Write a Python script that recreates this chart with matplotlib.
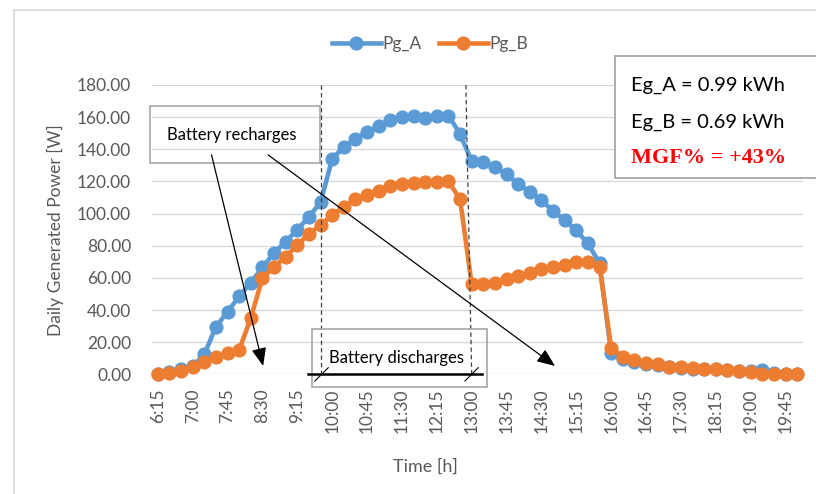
import matplotlib.pyplot as plt
from matplotlib.patches import Rectangle

plt.rcParams['font.family'] = ['Lato', 'DejaVu Sans']

# 15-min samples from 6:15 to 20:00
times = ['6:15', '6:30', '6:45', '7:00', '7:15', '7:30', '7:45', '8:00', '8:15', '8:30',
         '8:45', '9:00', '9:15', '9:30', '9:45', '10:00', '10:15', '10:30', '10:45', '11:00',
         '11:15', '11:30', '11:45', '12:00', '12:15', '12:30', '12:45', '13:00', '13:15', '13:30',
         '13:45', '14:00', '14:15', '14:30', '14:45', '15:00', '15:15', '15:30', '15:45', '16:00',
         '16:15', '16:30', '16:45', '17:00', '17:15', '17:30', '17:45', '18:00', '18:15', '18:30',
         '18:45', '19:00', '19:15', '19:30', '19:45', '20:00']

pg_a = [0, 1.5, 3.0, 5.0, 12.5, 29.5, 39, 48.5, 57, 66.5,
        75.5, 82.5, 90, 98, 107, 134, 141.5, 146.5, 151, 154.5,
        158, 160, 161, 159.5, 161, 161, 149.5, 132.5, 132, 129,
        124.5, 118.5, 113.5, 108.5, 101.5, 96, 89.5, 81.5, 69, 13,
        9.5, 7.5, 6.5, 6, 4.5, 4.2, 3.6, 3.2, 3.0, 2.6,
        2.0, 1.8, 2.6, 0.5, 0.3, 0.2]

pg_b = [0, 0.6, 2.3, 4.3, 7.9, 10.6, 13, 15.2, 35, 60,
        66.8, 73.2, 80.5, 87.3, 93, 99, 104.3, 109, 111.8, 114.3,
        117, 118.5, 119.2, 119.8, 119.8, 120, 109, 56, 56.2, 57,
        59.2, 61.2, 63.2, 65.3, 66.6, 68, 70, 70, 67, 16.5,
        11, 9, 7.3, 6.4, 4.8, 4.4, 3.8, 3.2, 3.1, 2.7,
        1.8, 1.7, 0.3, 0.2, 0.2, 0.2]

energy_lines = ['Eg_A = 0.99 kWh', 'Eg_B = 0.69 kWh']
mgf_text = 'MGF% = +43%'

W, H = 816, 494
def px(x, y):
    # pixel position (from top-left) -> figure fraction
    return x / W, 1 - y / H

grey = '#595959'
blue = '#5B9BD5'
orange = '#ED7D31'

fig = plt.figure(figsize=(8.16, 4.94), dpi=100)
ax = fig.add_axes([152 / W, 1 - 374.3 / H, (803 - 152) / W, (374.3 - 85) / H])

x = list(range(len(times)))
la, = ax.plot(x, pg_a, color=blue, lw=3.3, marker='o', ms=9.2, clip_on=False, zorder=3, label='Pg_A')
lb, = ax.plot(x, pg_b, color=orange, lw=3.3, marker='o', ms=9.2, clip_on=False, zorder=4, label='Pg_B')

ax.set_xlim(-0.5, len(times) - 0.5)
ax.set_ylim(0, 180)
ax.set_yticks(range(0, 181, 20))
ax.set_yticklabels(['%.2f' % v for v in range(0, 181, 20)])
ax.set_xticks(x[::3])
ax.set_xticklabels(times[::3], rotation=90)
ax.tick_params(axis='both', length=0, labelsize=12.5, labelcolor=grey)
ax.tick_params(axis='y', pad=15)
ax.tick_params(axis='x', pad=10)
ax.grid(axis='y', color='#D9D9D9', lw=1)
ax.set_axisbelow(True)
for s in ax.spines.values():
    s.set_visible(False)

ax.set_ylabel('Daily Generated Power [W]', fontsize=12.5, color=grey, labelpad=9)
fig.text(*px(425, 467), 'Time [h]', fontsize=13, color=grey, ha='center', va='center')

# dashed lines marking the discharge window
ax.plot([14.05, 14.05], [180, 0], color='#404040', lw=0.9, ls=(0, (3.5, 2.5)), zorder=5)
ax.plot([26.5, 27.0], [180, 0], color='#404040', lw=0.9, ls=(0, (3.5, 2.5)), zorder=5)

# battery recharges annotation
ax.add_patch(Rectangle((-0.63, 131.3), 14.57, 35.7, fill=False, ec='#A6A6A6', lw=1.2,
                       clip_on=False, zorder=5))
ax.text(6.34, 149, 'Battery recharges', fontsize=12, color='black', ha='center', va='center', zorder=6)
arrow = dict(arrowstyle='-|>,head_length=1.1,head_width=0.45', color='black', lw=0.9,
             shrinkA=0, shrinkB=0)
ax.annotate('', xy=(9.06, 5.2), xytext=(4.62, 136.5), arrowprops=arrow, zorder=6)
ax.annotate('', xy=(34.17, 5.2), xytext=(9.49, 136.5), arrowprops=arrow, zorder=6)

# battery discharges annotation
ax.add_patch(Rectangle((13.23, -7.7), 15.11, 35.9, fill=False, ec='#A6A6A6', lw=1.2,
                       clip_on=False, zorder=5))
ax.text(20.54, 10, 'Battery discharges', fontsize=12, color='black', ha='center', va='center', zorder=6)
ax.plot([12.93, 27.86], [0, 0], color='black', lw=1.8, clip_on=False, zorder=6)
ax.plot([13.51, 14.66], [-4.2, 4.1], color='black', lw=0.8, clip_on=False, zorder=6)
ax.plot([26.42, 27.56], [-4.2, 4.1], color='black', lw=0.8, clip_on=False, zorder=6)

# chart area border
fig.patches.append(Rectangle(px(14, 560), 1.0, (560 - 10) / H, transform=fig.transFigure,
                             fill=False, ec='#D9D9D9', lw=1.2, clip_on=False))

# energy textbox (top right)
fig.patches.append(Rectangle(px(615, 178), 0.3, (178 - 56) / H, transform=fig.transFigure,
                             fc='white', ec='#A0A0A0', lw=1.2, clip_on=False, zorder=10))
fig.text(*px(631, 85), energy_lines[0], fontsize=14.5, color='black', va='center', zorder=11)
fig.text(*px(631, 122), energy_lines[1], fontsize=14.5, color='black', va='center', zorder=11)
fig.text(*px(631, 158), mgf_text, fontsize=16, color='#FF0000', fontweight='bold',
         family=['Liberation Serif', 'DejaVu Serif'], va='center', zorder=11)

fig.legend(handles=[la, lb], loc='center', bbox_to_anchor=px(430, 44), ncol=2, frameon=False,
           fontsize=12.5, labelcolor=grey, handlelength=2.8, handletextpad=0.1, columnspacing=1.0,
           numpoints=1)

fig.savefig('out.png', dpi=100)
